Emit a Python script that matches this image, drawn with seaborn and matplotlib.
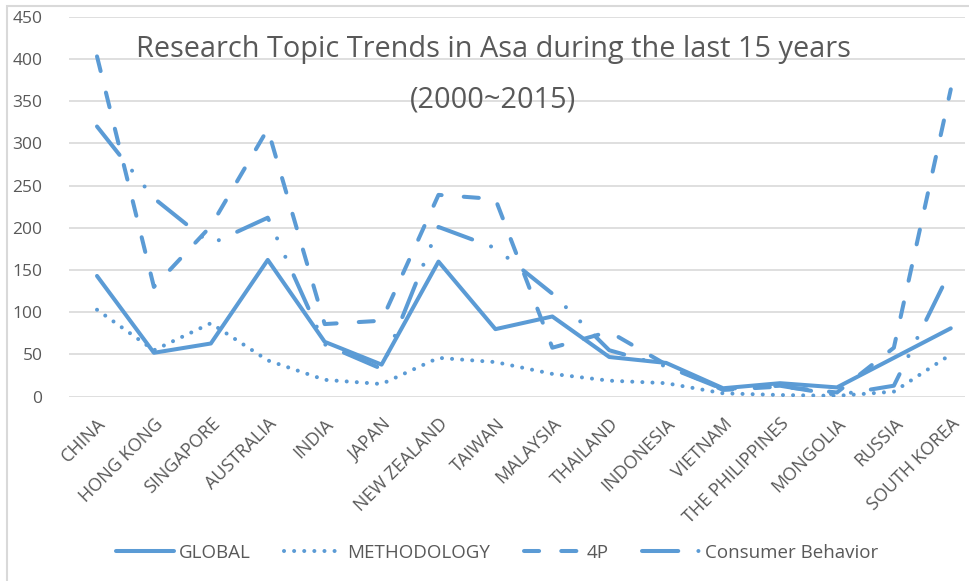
import matplotlib
matplotlib.use("Agg")
import matplotlib.pyplot as plt
import seaborn as sns
import pandas as pd
from matplotlib.patches import Rectangle

# Données
pays = ["CHINA", "HONG KONG", "SINGAPORE", "AUSTRALIA", "INDIA", "JAPAN",
        "NEW ZEALAND", "TAIWAN", "MALAYSIA", "THAILAND", "INDONESIA",
        "VIETNAM", "THE PHILIPPINES", "MONGOLIA", "RUSSIA", "SOUTH KOREA"]
global_ = [143, 52, 63, 162, 65, 38, 160, 80, 95, 47, 40, 10, 16, 11, 46, 81]
methodology = [103, 55, 87, 43, 20, 15, 46, 41, 27, 19, 16, 4, 2, 1, 6, 50]
four_p = [403, 130, 202, 317, 86, 90, 239, 234, 58, 77, 38, 8, 12, 5, 58, 364]
consumer = [320, 235, 181, 212, 62, 33, 201, 176, 122, 55, 36, 9, 13, 2, 13, 150]
series = ["GLOBAL", "METHODOLOGY", "4P", "Consumer Behavior"]
yticks = [0, 50, 100, 150, 200, 250, 300, 350, 400, 450]

BLEU = "#5B9BD5"
GRIS = "#595959"

sns.set_theme(style="white")
plt.rcParams["font.family"] = ["Open Sans", "DejaVu Sans"]
plt.rcParams["lines.dash_capstyle"] = "round"
plt.rcParams["lines.solid_capstyle"] = "round"

rows = []
for nom, vals in zip(series, [global_, methodology, four_p, consumer]):
    for i, v in enumerate(vals):
        rows.append({"x": i, "valeur": v, "serie": nom})
df = pd.DataFrame(rows)

fig = plt.figure(figsize=(9.7, 5.81), dpi=100)
ax = fig.add_axes([69 / 970, 1 - 396.7 / 581, 896 / 970, 380 / 581])

dashes = {
    "GLOBAL": "",
    "METHODOLOGY": (0.01, 2.5),
    "4P": (3.75, 5.5),
    "Consumer Behavior": (9, 5, 0.01, 5, 0.01, 5),
}
sns.lineplot(data=df, x="x", y="valeur", style="serie", style_order=series,
             dashes=dashes, color=BLEU, linewidth=2.9, legend=False, ax=ax)

ax.set_xlim(-0.492, 15.25)
ax.set_ylim(0, 450)
ax.set_yticks(yticks)
ax.set_yticklabels([str(t) for t in yticks], fontsize=12.5, color=GRIS)
ax.set_xticks(range(len(pays)))
ax.set_xticklabels(pays, rotation=45, ha="right", va="top",
                   rotation_mode="anchor", fontsize=13, color=GRIS)
ax.tick_params(axis="y", length=0, pad=19)
ax.tick_params(axis="x", length=0, pad=13)
ax.set_xlabel("")
ax.set_ylabel("")
ax.yaxis.grid(True, color="#D9D9D9", linewidth=1.2)
ax.xaxis.grid(False)
ax.set_axisbelow(True)
for s in ax.spines.values():
    s.set_visible(False)

fig.text(493 / 970, 1 - 49 / 581,
         "Research Topic Trends in Asa during the last 15 years",
         ha="center", va="center", fontsize=20.8, color=GRIS)
fig.text(493 / 970, 1 - 100 / 581, "(2000~2015)",
         ha="center", va="center", fontsize=20.8, color=GRIS)

fig.legend(handles=ax.lines[:4], labels=series, loc="center",
           bbox_to_anchor=(497 / 970, 1 - 553 / 581), ncol=4, frameon=False,
           fontsize=13.5, labelcolor=GRIS, handlelength=3.1,
           handletextpad=0.25, columnspacing=1.8)

# Cadre gris du graphique
fig.add_artist(Rectangle((7.5 / 970, -0.1), 1.2, 1.1 - 6 / 581,
                         transform=fig.transFigure, fill=False,
                         edgecolor="#D9D9D9", linewidth=1.5))

fig.savefig("out.png", dpi=100)
